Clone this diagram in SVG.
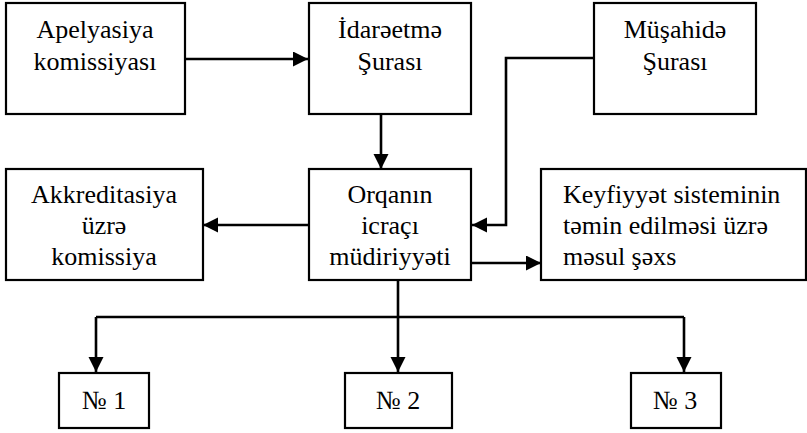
<svg xmlns="http://www.w3.org/2000/svg" width="807" height="433" viewBox="0 0 807 433">
  <style>
    .box { fill: #ffffff; stroke: #000000; stroke-width: 2.2; }
    text { font-family: 'Liberation Serif', 'Times New Roman', serif; font-size: 26px; fill: #000000; }
    .mid { text-anchor: middle; }
    .wire { fill: none; stroke: #000000; stroke-width: 2.6; }
  </style>
  <defs>
    <marker id="arrow" markerUnits="userSpaceOnUse" markerWidth="16" markerHeight="16" refX="15" refY="7.5" orient="auto">
      <path d="M0,0 L15,7.5 L0,15 Z" fill="#000000"/>
    </marker>
  </defs>

  <rect width="807" height="433" fill="#ffffff"/>

  <!-- connectors -->
  <g id="connectors">
    <path class="wire" d="M185,59 H308" marker-end="url(#arrow)"/>
    <path class="wire" d="M381,114 V169" marker-end="url(#arrow)"/>
    <path class="wire" d="M594,58 H506 V225 H472" marker-end="url(#arrow)"/>
    <path class="wire" d="M309,225 H203" marker-end="url(#arrow)"/>
    <path class="wire" d="M471,263 H541" marker-end="url(#arrow)"/>
    <path class="wire" d="M398,280 V317 M96,317 H684"/>
    <path class="wire" d="M96,317 V372" marker-end="url(#arrow)"/>
    <path class="wire" d="M398,317 V372" marker-end="url(#arrow)"/>
    <path class="wire" d="M684,317 V372" marker-end="url(#arrow)"/>
  </g>

  <g id="apelyasiya">
    <rect class="box" x="6" y="3" width="179" height="111"/>
    <text class="mid" x="95" y="38">Apelyasiya</text>
    <text class="mid" x="95" y="70">komissiyası</text>
  </g>

  <g id="idareetme">
    <rect class="box" x="309" y="3" width="162" height="111"/>
    <text class="mid" x="390" y="38">İdarəetmə</text>
    <text class="mid" x="390" y="70">Şurası</text>
  </g>

  <g id="musahide">
    <rect class="box" x="594" y="3" width="162" height="111"/>
    <text class="mid" x="675" y="38">Müşahidə</text>
    <text class="mid" x="675" y="70">Şurası</text>
  </g>

  <g id="akkreditasiya">
    <rect class="box" x="6" y="169" width="197" height="111"/>
    <text class="mid" x="104" y="203">Akkreditasiya</text>
    <text class="mid" x="104" y="234">üzrə</text>
    <text class="mid" x="104" y="265">komissiya</text>
  </g>

  <g id="icraci">
    <rect class="box" x="309" y="169" width="162" height="111"/>
    <text class="mid" x="390" y="203">Orqanın</text>
    <text class="mid" x="390" y="234">icraçı</text>
    <text class="mid" x="390" y="265">müdiriyyəti</text>
  </g>

  <g id="keyfiyyet">
    <rect class="box" x="541" y="169" width="265" height="111"/>
    <text x="563" y="203">Keyfiyyət sisteminin</text>
    <text x="563" y="234">təmin edilməsi üzrə</text>
    <text x="563" y="265">məsul şəxs</text>
  </g>

  <g id="n1">
    <rect class="box" x="59" y="373" width="90" height="55"/>
    <text class="mid" x="104" y="409">№ 1</text>
  </g>

  <g id="n2">
    <rect class="box" x="345" y="373" width="107" height="55"/>
    <text class="mid" x="398" y="409">№ 2</text>
  </g>

  <g id="n3">
    <rect class="box" x="631" y="373" width="90" height="55"/>
    <text class="mid" x="675" y="409">№ 3</text>
  </g>
</svg>
